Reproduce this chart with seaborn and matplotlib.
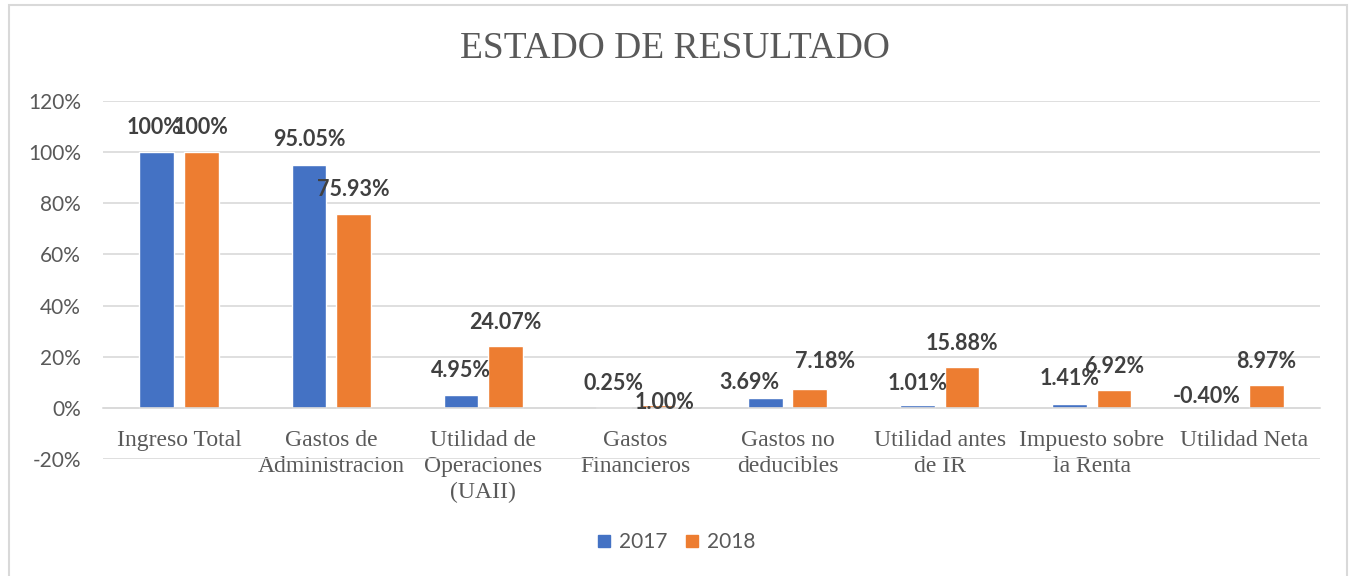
import matplotlib
matplotlib.use("Agg")
import matplotlib.pyplot as plt
import seaborn as sns
import pandas as pd
from matplotlib.lines import Line2D
from matplotlib.patches import Rectangle

categories = ["Ingreso Total", "Gastos de\nAdministracion", "Utilidad de\nOperaciones\n(UAII)",
              "Gastos\nFinancieros", "Gastos no\ndeducibles", "Utilidad antes\nde IR",
              "Impuesto sobre\nla Renta", "Utilidad Neta"]
values_2017 = [100, 95.05, 4.95, 0.25, 3.69, 1.01, 1.41, -0.40]
values_2018 = [100, 75.93, 24.07, 1.00, 7.18, 15.88, 6.92, 8.97]
years = ["2017", "2018"]
yticks = [-20, 0, 20, 40, 60, 80, 100, 120]

# data-label placement (pixel offsets from bar top), as laid out in the original chart
label_offsets_2017 = [(-3, 25), (0, 25), (0, 25), (0, 24), (-16, 16), (0, 22), (0, 26), (-15, 11)]
label_offsets_2018 = [(0, 25), (0, 24), (0, 24), (7, 3), (15, 28), (0, 24), (0, 24), (0, 23)]

BLUE = "#4472C4"
ORANGE = "#ED7D31"
GRAY = "#595959"

df = pd.DataFrame({
    "cat": categories * 2,
    "year": [years[0]] * len(categories) + [years[1]] * len(categories),
    "val": values_2017 + values_2018,
})

sns.set_theme(style="white")
plt.rcParams["font.family"] = ["Lato", "DejaVu Sans"]

fig = plt.figure(figsize=(13.49, 5.76), dpi=100)
ax = fig.add_axes([103 / 1349, 117 / 576, (1320 - 103) / 1349, (459 - 101) / 576])

sns.barplot(data=df, x="cat", y="val", hue="year", palette=[BLUE, ORANGE],
            width=0.585, gap=0.22, ax=ax, legend=False, saturation=1)

ax.set_ylim(-20, 120)
ax.set_xlim(-0.5, 7.5)
ax.set_yticks(yticks)
ax.set_yticklabels([f"{t}%" for t in yticks], fontsize=15, color=GRAY)
ax.yaxis.grid(True, color="#D9D9D9", linewidth=1.2)
ax.set_axisbelow(True)
for s in ["top", "right", "left"]:
    ax.spines[s].set_visible(False)
ax.spines["bottom"].set_position(("data", 0))
ax.spines["bottom"].set_color("#D9D9D9")
ax.spines["bottom"].set_linewidth(1.2)
ax.tick_params(axis="both", length=0)
ax.tick_params(axis="y", pad=16)
ax.tick_params(axis="x", pad=16)
ax.set_xticks(range(len(categories)))
ax.set_xticklabels(categories, fontsize=17, color=GRAY, family="Liberation Serif",
                   linespacing=1.3)
ax.set_xlabel("")
ax.set_ylabel("")

for container, offsets in zip(ax.containers, [label_offsets_2017, label_offsets_2018]):
    for bar, (dx, dy) in zip(container, offsets):
        h = bar.get_height()
        txt = "100%" if h == 100 else f"{h:.2f}%"
        top = max(h, 0)
        ax.annotate(txt, (bar.get_x() + bar.get_width() / 2, top),
                    xytext=(dx, dy), textcoords="offset pixels",
                    ha="center", va="center", fontsize=15.5, fontweight="bold",
                    color="#404040")

fig.text(0.5, 1 - 49 / 576, "ESTADO DE RESULTADO", ha="center", va="center",
         fontsize=27, color=GRAY, family="Liberation Serif")

handles = [Line2D([], [], marker="s", linestyle="", markersize=9, color=c) for c in (BLUE, ORANGE)]
fig.legend(handles, years, loc="center", bbox_to_anchor=(0.5, 1 - 542 / 576), ncol=2,
           frameon=False, fontsize=15, labelcolor=GRAY, handletextpad=0.2,
           columnspacing=0.7, handlelength=1.0)

fig.add_artist(Rectangle((8.5 / 1349, -0.1), (1346.5 - 8.5) / 1349, 1.1 - 5 / 576,
                         transform=fig.transFigure, fill=False, edgecolor="#D9D9D9",
                         linewidth=1.5))

fig.savefig("out.png", dpi=100)
